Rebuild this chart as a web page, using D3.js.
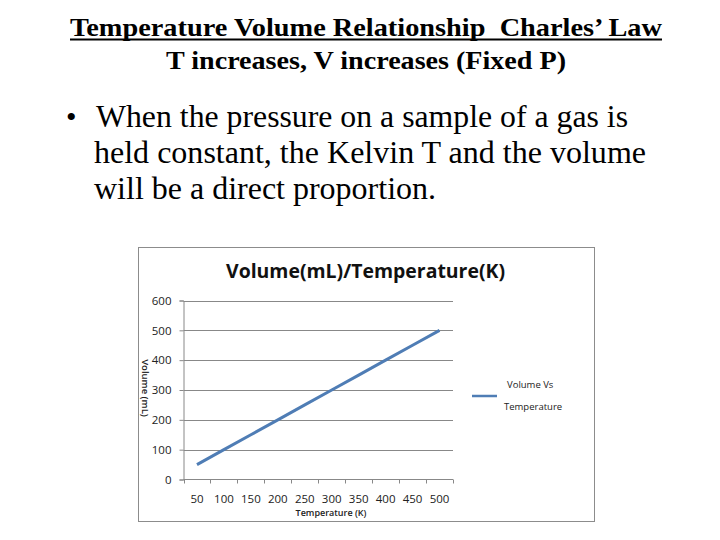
<!DOCTYPE html>
<html>
<head>
<meta charset="utf-8">
<script src="https://cdn.jsdelivr.net/npm/d3@7"></script>
<style>
  body { margin: 0; background: #fff; }
  svg { display: block; }
</style>
</head>
<body>
<div id="slide"></div>
<script>
// chart data
const temperatures = ["50", "100", "150", "200", "250", "300", "350", "400", "450", "500"];
const volumes = [50, 100, 150, 200, 250, 300, 350, 400, 450, 500];
const yTicks = [0, 100, 200, 300, 400, 500, 600];
const seriesName = ["Volume Vs", "Temperature"];

const headingLines = ["Temperature Volume Relationship  Charles\u2019 Law", "T increases, V increases (Fixed P)"];
const bulletLines = [
  "When the pressure on a sample of a gas is",
  "held constant, the Kelvin T and the volume",
  "will be a direct proportion."
];

const svg = d3.select("#slide")
  .append("svg")
  .attr("width", 720)
  .attr("height", 540);

// slide heading (Times bold)
const heading = [
  { x: 70, y: 36, w: 592 },
  { x: 166, y: 69, w: 400 }
];
headingLines.forEach((t, i) => {
  svg.append("text")
    .attr("x", heading[i].x)
    .attr("y", heading[i].y)
    .attr("textLength", heading[i].w)
    .attr("lengthAdjust", "spacingAndGlyphs")
    .style("white-space", "pre")
    .style("font-family", "'Liberation Serif', 'Times New Roman', serif")
    .style("font-weight", "bold")
    .style("font-size", "25px")
    .text(t);
});
svg.append("line")
  .attr("x1", 70).attr("x2", 662)
  .attr("y1", 39.5).attr("y2", 39.5)
  .attr("stroke", "#000")
  .attr("stroke-width", 1.8);

// bullet text
svg.append("text")
  .attr("x", 66).attr("y", 127)
  .style("font-family", "'Liberation Serif', serif")
  .style("font-size", "30px")
  .text("\u2022");

const bullet = [
  { x: 96, y: 127, w: 532 },
  { x: 94, y: 163, w: 552 },
  { x: 94, y: 199, w: 342 }
];
bulletLines.forEach((t, i) => {
  svg.append("text")
    .attr("x", bullet[i].x)
    .attr("y", bullet[i].y)
    .attr("textLength", bullet[i].w)
    .attr("lengthAdjust", "spacingAndGlyphs")
    .style("font-family", "'Liberation Serif', 'Times New Roman', serif")
    .style("font-size", "32px")
    .text(t);
});

// chart box
svg.append("rect")
  .attr("x", 138.5).attr("y", 247.5)
  .attr("width", 456).attr("height", 274)
  .attr("fill", "#fff")
  .attr("stroke", "#8c8c8c")
  .attr("stroke-width", 1);

const plot = { left: 183.5, right: 453, top: 300.5, bottom: 479.5 };
const chartFont = "'Open Sans', 'DejaVu Sans', sans-serif";

const x = d3.scaleBand()
  .domain(temperatures)
  .range([plot.left, plot.right])
  .padding(0);

const y = d3.scaleLinear()
  .domain([0, 600])
  .range([plot.bottom, plot.top]);

// gridlines
svg.append("g")
  .selectAll("line")
  .data(yTicks.filter(d => d > 0))
  .enter()
  .append("line")
  .attr("x1", plot.left)
  .attr("x2", plot.right)
  .attr("y1", d => Math.round(y(d)) + 0.5)
  .attr("y2", d => Math.round(y(d)) + 0.5)
  .attr("stroke", "#888")
  .attr("stroke-width", 1);

// y axis
const yAxis = svg.append("g")
  .attr("transform", "translate(" + plot.left + ",0)")
  .call(d3.axisLeft(y).tickValues(yTicks).tickSize(4).tickPadding(8));
yAxis.select(".domain").attr("stroke", "#888");
yAxis.selectAll(".tick line").attr("stroke", "#888");
yAxis.selectAll("text")
  .style("font-family", chartFont)
  .style("font-size", "11.5px")
  .attr("fill", "#222");

// x axis: labels at band centers, ticks at band edges
const xAxis = svg.append("g")
  .attr("transform", "translate(0," + plot.bottom + ")")
  .call(d3.axisBottom(x).tickSize(0).tickPadding(15));
xAxis.select(".domain").remove();
xAxis.selectAll("text")
  .style("font-family", chartFont)
  .style("font-size", "11.5px")
  .attr("fill", "#222");

svg.append("line")
  .attr("x1", plot.left).attr("x2", plot.right)
  .attr("y1", plot.bottom).attr("y2", plot.bottom)
  .attr("stroke", "#888");

const edges = temperatures.map(d => x(d)).concat([x(temperatures[temperatures.length - 1]) + x.bandwidth()]);
svg.append("g")
  .selectAll("line")
  .data(edges)
  .enter()
  .append("line")
  .attr("x1", d => Math.round(d) + 0.5)
  .attr("x2", d => Math.round(d) + 0.5)
  .attr("y1", plot.bottom)
  .attr("y2", plot.bottom + 4)
  .attr("stroke", "#888");

// the series line
const line = d3.line()
  .x((d, i) => x(temperatures[i]) + x.bandwidth() / 2)
  .y(d => y(d));

svg.append("path")
  .datum(volumes)
  .attr("d", line)
  .attr("fill", "none")
  .attr("stroke", "#4f7db5")
  .attr("stroke-width", 3)
  .attr("stroke-linecap", "butt");

// chart title
svg.append("text")
  .attr("x", 226)
  .attr("y", 278)
  .attr("textLength", 279)
  .attr("lengthAdjust", "spacingAndGlyphs")
  .style("font-family", chartFont)
  .style("font-weight", "bold")
  .style("font-size", "20px")
  .attr("fill", "#111")
  .text("Volume(mL)/Temperature(K)");

// axis titles
svg.append("text")
  .attr("x", 331)
  .attr("y", 516)
  .attr("text-anchor", "middle")
  .style("font-family", chartFont)
  .style("font-weight", "600")
  .style("font-size", "9px")
  .attr("fill", "#222")
  .text("Temperature (K)");

svg.append("text")
  .attr("transform", "translate(142,388) rotate(90)")
  .attr("text-anchor", "middle")
  .style("font-family", chartFont)
  .style("font-weight", "600")
  .style("font-size", "9.5px")
  .attr("fill", "#222")
  .text("Volume (mL)");

// legend
svg.append("line")
  .attr("x1", 472).attr("x2", 497)
  .attr("y1", 396).attr("y2", 396)
  .attr("stroke", "#4f7db5")
  .attr("stroke-width", 2.5);

svg.append("text")
  .attr("x", 507).attr("y", 387.5)
  .style("font-family", chartFont)
  .style("font-size", "9.5px")
  .attr("fill", "#222")
  .text(seriesName[0]);
svg.append("text")
  .attr("x", 504).attr("y", 410)
  .style("font-family", chartFont)
  .style("font-size", "9.5px")
  .attr("fill", "#222")
  .text(seriesName[1]);
</script>
</body>
</html>
